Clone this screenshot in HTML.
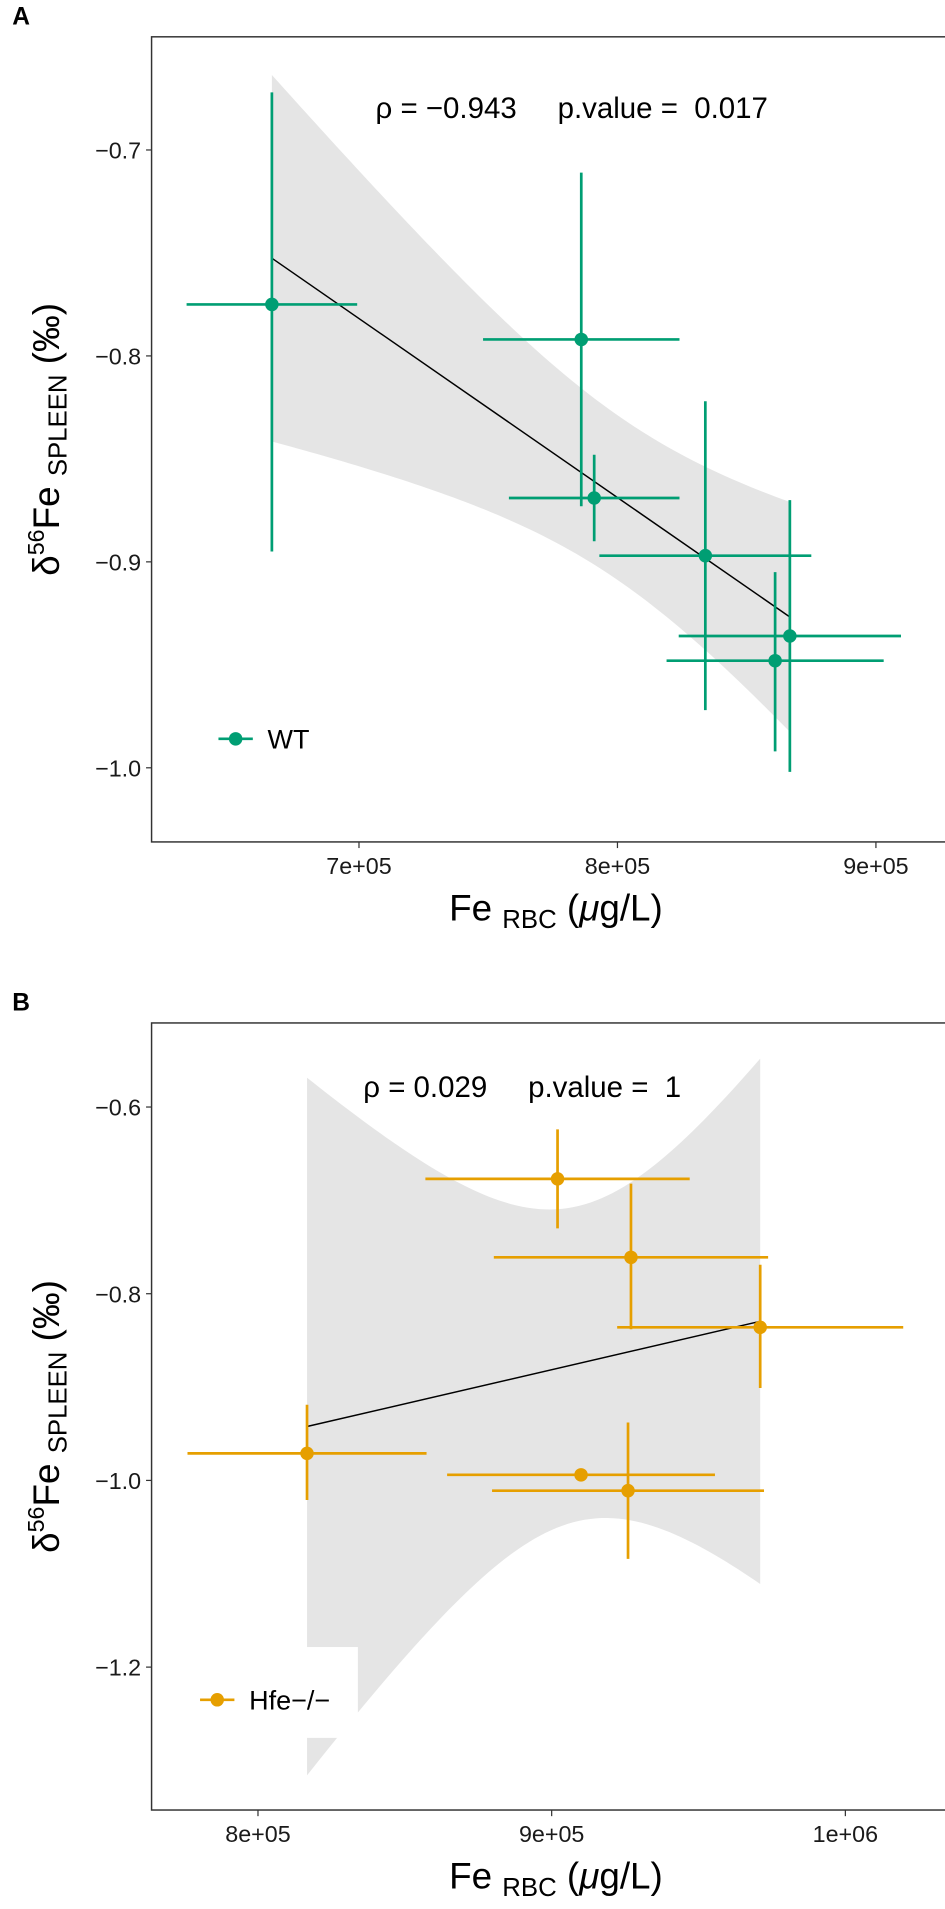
<!DOCTYPE html>
<html><head><meta charset="utf-8"><style>
body{margin:0;background:#fff;}
svg{display:block;font-family:"Liberation Sans",sans-serif;}
text{white-space:pre;}
</style></head><body>
<svg id="s" width="945" height="1909" viewBox="0 0 945 1909"><g id="root" transform="scale(1.2273)"></g></svg>
<script>
const wtX=[6.663e5,7.86e5,7.91e5,8.34e5,8.667e5,8.61e5];
const wtY=[-0.775,-0.792,-0.869,-0.897,-0.936,-0.948];
const wtXerr=[0.33e5,0.38e5,0.33e5,0.41e5,0.43e5,0.42e5];
const wtYlo=[-0.895,-0.873,-0.890,-0.972,-1.002,-0.992];
const wtYhi=[-0.672,-0.711,-0.848,-0.822,-0.870,-0.905];
const hX=[8.167e5,9.02e5,9.27e5,9.71e5,9.10e5,9.26e5];
const hY=[-0.971,-0.677,-0.761,-0.836,-0.994,-1.011];
const hXerr=[0.407e5,0.45e5,0.467e5,0.487e5,0.456e5,0.463e5];
const hYlo=[-1.021,-0.730,-0.838,-0.901,-0.997,-1.084];
const hYhi=[-0.919,-0.624,-0.682,-0.769,-0.991,-0.938];
const aXTicks=[7e5,8e5,9e5], aXLab=["7e+05","8e+05","9e+05"];
const aYTicks=[-0.7,-0.8,-0.9,-1.0], aYLab=["\u22120.7","\u22120.8","\u22120.9","\u22121.0"];
const bXTicks=[8e5,9e5,1e6], bXLab=["8e+05","9e+05","1e+06"];
const bYTicks=[-0.6,-0.8,-1.0,-1.2], bYLab=["\u22120.6","\u22120.8","\u22121.0","\u22121.2"];
const NS="http://www.w3.org/2000/svg", svg=document.getElementById('root');
function el(t,a,p){const e=document.createElementNS(NS,t);for(const k in a)e.setAttribute(k,a[k]);(p||svg).appendChild(e);return e;}
function panel(o){
  const g=el('g',{});
  
  
  const sx=v=>o.x0px+(v-o.x0)*o.kx, sy=v=>o.y0px-(v-o.y0)*o.ky;
  const n=o.X.length, xm=o.X.reduce((a,b)=>a+b)/n, ym=o.Y.reduce((a,b)=>a+b)/n;
  let sxx=0,sxy=0;for(let i=0;i<n;i++){sxx+=(o.X[i]-xm)**2;sxy+=(o.X[i]-xm)*(o.Y[i]-ym);}
  const b=sxy/sxx,a=ym-b*xm;let sse=0;for(let i=0;i<n;i++)sse+=(o.Y[i]-a-b*o.X[i])**2;
  const se=Math.sqrt(sse/(n-2)),t=2.776*o.bw;
  const xmin=Math.min(...o.X),xmax=Math.max(...o.X);
  const up=[],lo=[];
  for(let k=0;k<=80;k++){const x=xmin+(xmax-xmin)*k/80,yh=a+b*x,w=t*se*Math.sqrt(1/n+(x-xm)**2/sxx);
    up.push([sx(x),Math.max(o.top,sy(yh+w))]);lo.push([sx(x),Math.min(o.bot,sy(yh-w))]);}
  const band=el('polygon',{points:up.concat(lo.reverse()).map(p=>p.join(',')).join(' '),fill:'#e5e5e5'},g);
  
  const ln=el('line',{x1:sx(xmin),y1:sy(a+b*xmin),x2:sx(xmax),y2:sy(a+b*xmax),stroke:'#000','stroke-width':1.2},g);
  
  for(let i=0;i<n;i++){
    const pg=el('g',{},g);
    
    el('line',{x1:sx(o.X[i]-o.Xe[i]),x2:sx(o.X[i]+o.Xe[i]),y1:sy(o.Y[i]),y2:sy(o.Y[i]),stroke:o.c,'stroke-width':2.2},pg);
    el('line',{x1:sx(o.X[i]),x2:sx(o.X[i]),y1:sy(o.Ylo[i]),y2:sy(o.Yhi[i]),stroke:o.c,'stroke-width':2.2},pg);
    el('circle',{cx:sx(o.X[i]),cy:sy(o.Y[i]),r:5.5,fill:o.c},pg);
  }
  el('rect',{x:124.6,y:o.lgy-43,width:o.lgw,height:74,fill:'#fff'},g);
  el('rect',{x:123.5,y:o.top,width:658,height:o.bot-o.top,fill:'none',stroke:'#333','stroke-width':1.2},g);
  o.xt.forEach((v,i)=>{el('line',{x1:sx(v),x2:sx(v),y1:o.bot,y2:o.bot+5,stroke:'#333'},g);
    const tx=el('text',{x:sx(v),y:o.bot+26,'font-size':19,'text-anchor':'middle',fill:'#1a1a1a'},g);tx.textContent=o.xl[i];
    });
  o.yt.forEach((v,i)=>{el('line',{x1:119,x2:123.5,y1:sy(v),y2:sy(v),stroke:'#333'},g);
    const tx=el('text',{x:115,y:sy(v)+7,'font-size':19,'text-anchor':'end',fill:'#1a1a1a'},g);tx.textContent=o.yl[i];
    });
  const lg=el('g',{},g);
  el('line',{x1:o.lgx-14,x2:o.lgx+14,y1:o.lgy,y2:o.lgy,stroke:o.c,'stroke-width':2.2},lg);
  el('circle',{cx:o.lgx,cy:o.lgy,r:5.5,fill:o.c},lg);
  el('text',{x:o.lgx+26,y:o.lgy+8,'font-size':22},lg).textContent=o.lgt;
  const an=el('text',{x:o.annx,y:o.anny,'font-size':24},g);an.textContent=o.ann;
  
  const yt=el('text',{transform:`translate(48,${(o.top+o.bot)/2}) rotate(-90)`,'font-size':30,'text-anchor':'middle'},g);
  yt.innerHTML='δ<tspan dy="-12" font-size="19">56</tspan><tspan dy="12">Fe </tspan><tspan font-size="21" dy="6">SPLEEN</tspan><tspan dy="-6"> (‰)</tspan>';
  
  const xt=el('text',{x:453,y:o.bot+64,'font-size':30,'text-anchor':'middle'},g);
  xt.innerHTML='Fe <tspan font-size="21" dy="6">RBC</tspan><tspan dy="-6"> (</tspan><tspan font-style="italic">μ</tspan>g/L)';
  
  const pl=el('text',{x:10,y:o.top-10,'font-size':20,'font-weight':'bold'},g);pl.textContent=o.id;
  
}
panel({id:'A',X:wtX,Y:wtY,Xe:wtXerr,Ylo:wtYlo,Yhi:wtYhi,c:'#009E73',x0:7e5,x0px:292.5,kx:210.6/1e5,y0:-0.7,y0px:122.2,ky:1678,bw:0.95,
  top:30,bot:686,xt:aXTicks,xl:aXLab,yt:aYTicks,yl:aYLab,lgx:192,lgy:602,lgw:0,lgt:'WT',annx:306,anny:96,ann:'ρ = −0.943     p.value =  0.017'});
panel({id:'B',X:hX,Y:hY,Xe:hXerr,Ylo:hYlo,Yhi:hYhi,c:'#E69F00',x0:8e5,x0px:210.2,kx:239.3/1e5,y0:-0.6,y0px:902,ky:760.6,bw:1,
  top:833.5,bot:1474.8,xt:bXTicks,xl:bXLab,yt:bYTicks,yl:bYLab,lgx:177,lgy:1385,lgw:167,lgt:'Hfe−/−',annx:296,anny:894,ann:'ρ = 0.029     p.value =  1'});
</script>
</body></html>
